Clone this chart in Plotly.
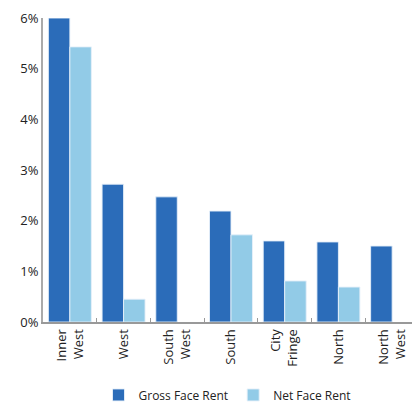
import plotly.graph_objects as go

categories = ["Inner<br>West", "West", "South<br>West", "South", "City<br>Fringe", "North", "North<br>West"]
gross_face_rent = [6.0, 2.72, 2.47, 2.19, 1.60, 1.58, 1.50]
net_face_rent = [5.43, 0.45, None, 1.72, 0.81, 0.69, None]
y_ticks = [0, 1, 2, 3, 4, 5, 6]
y_tick_labels = ["0%", "1%", "2%", "3%", "4%", "5%", "6%"]

font_family = "Open Sans, Noto Sans, sans-serif"

fig = go.Figure()
fig.add_trace(go.Bar(
    name="Gross Face Rent", x=categories, y=gross_face_rent,
    marker=dict(color="#2B6CB9", line=dict(color="rgba(230,240,250,0.9)", width=1)),
))
fig.add_trace(go.Bar(
    name="Net Face Rent", x=categories, y=net_face_rent,
    marker=dict(color="#92CBE7", line=dict(color="rgba(230,240,250,0.9)", width=1)),
))

fig.update_layout(
    width=412, height=403,
    margin=dict(l=43, r=0, t=18, b=81, autoexpand=False),
    paper_bgcolor="white", plot_bgcolor="white",
    barmode="group", bargap=0.2, bargroupgap=0,
    font=dict(family=font_family, size=12, color="#222"),
    showlegend=True,
    legend=dict(orientation="h", x=0.5, xanchor="center", yref="container", y=0.02, yanchor="middle",
                font=dict(size=12), itemwidth=30, traceorder="normal"),
    xaxis=dict(
        range=[-0.5, 6.37], tickangle=-90, showline=True, linecolor="#999", linewidth=2,
        ticks="inside", tickson="boundaries", ticklen=4, tickcolor="#999",
        showgrid=False, tickfont=dict(size=13),
    ),
    yaxis=dict(
        range=[0, 6], tickvals=y_ticks, ticktext=y_tick_labels, showline=True, linecolor="#aaa",
        linewidth=2, showgrid=False, zeroline=False, ticks="", tickfont=dict(size=13),
    ),
)

fig.write_html("out.html")
